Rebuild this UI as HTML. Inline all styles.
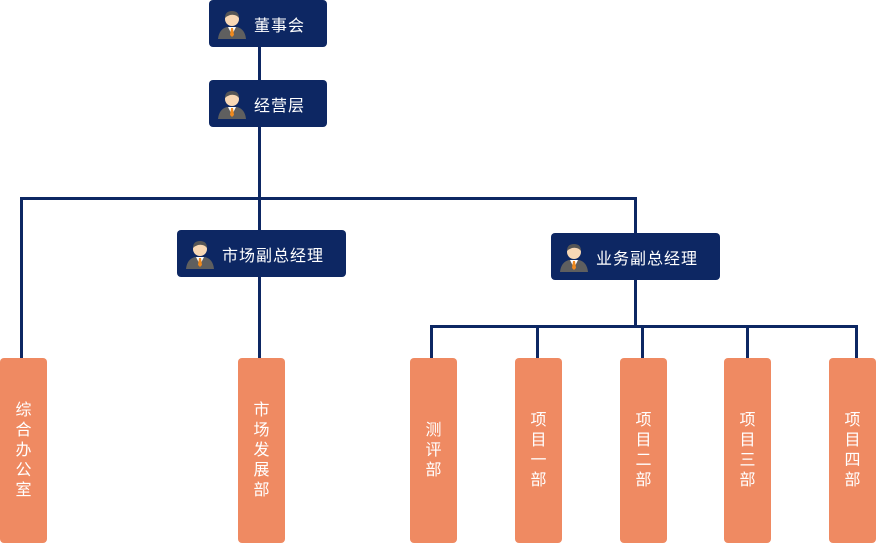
<!DOCTYPE html>
<html><head><meta charset="utf-8"><style>
body{margin:0;width:876px;height:543px;background:#fff;position:relative;overflow:hidden;font-family:"Liberation Sans","Noto Sans CJK SC",sans-serif}
.l{position:absolute;background:#0d2763}
.d{position:absolute;background:#0d2763;border-radius:4px;color:#fff;font-size:16px;letter-spacing:1px;display:flex;align-items:center;height:47px}
.d svg{margin-left:8px;margin-right:7px}
.o{position:absolute;top:358px;height:185px;width:47px;background:#ef8a62;border-radius:4px;color:#fff;font-size:16px;line-height:20px;display:flex;align-items:center;justify-content:center;text-align:center}
</style></head><body>
<div class="l" style="left:258px;top:40px;width:3px;height:160px"></div>
<div class="l" style="left:20px;top:197px;width:617px;height:3px"></div>
<div class="l" style="left:20px;top:197px;width:3px;height:165px"></div>
<div class="l" style="left:258px;top:197px;width:3px;height:165px"></div>
<div class="l" style="left:634px;top:197px;width:3px;height:130px"></div>
<div class="l" style="left:430px;top:325px;width:428px;height:3px"></div>
<div class="l" style="left:430px;top:325px;width:3px;height:37px"></div>
<div class="l" style="left:536px;top:325px;width:3px;height:37px"></div>
<div class="l" style="left:641px;top:325px;width:3px;height:37px"></div>
<div class="l" style="left:746px;top:325px;width:3px;height:37px"></div>
<div class="l" style="left:855px;top:325px;width:3px;height:37px"></div>

<svg width="0" height="0" style="position:absolute"><defs><g id="p"><path d="M1 30 Q2 20 10 18 L20 18 Q28 20 29 30 Z" fill="#5f5f5f"/><path d="M11 18 L15 26 L19 18 Z" fill="#fff"/><path d="M14 19 L16 19 L17 26 L15 28 L13 26 Z" fill="#f08a1e"/><circle cx="15" cy="10" r="7" fill="#f7d7b5"/><path d="M8 9 Q8 2 15 2 Q22 2 22 9 Q19 5 13 6 Q10 7 8 9Z" fill="#555"/></g></defs></svg>

<div class="d" style="left:209px;top:0;width:118px"><svg width="30" height="30"><use href="#p"/></svg>董事会</div>
<div class="d" style="left:209px;top:80px;width:118px"><svg width="30" height="30"><use href="#p"/></svg>经营层</div>
<div class="d" style="left:177px;top:230px;width:169px"><svg width="30" height="30"><use href="#p"/></svg>市场副总经理</div>
<div class="d" style="left:551px;top:233px;width:169px"><svg width="30" height="30"><use href="#p"/></svg>业务副总经理</div>

<div class="o" style="left:0">综<br>合<br>办<br>公<br>室</div>
<div class="o" style="left:238px">市<br>场<br>发<br>展<br>部</div>
<div class="o" style="left:410px">测<br>评<br>部</div>
<div class="o" style="left:515px">项<br>目<br>一<br>部</div>
<div class="o" style="left:620px">项<br>目<br>二<br>部</div>
<div class="o" style="left:724px">项<br>目<br>三<br>部</div>
<div class="o" style="left:829px">项<br>目<br>四<br>部</div>
</body></html>
